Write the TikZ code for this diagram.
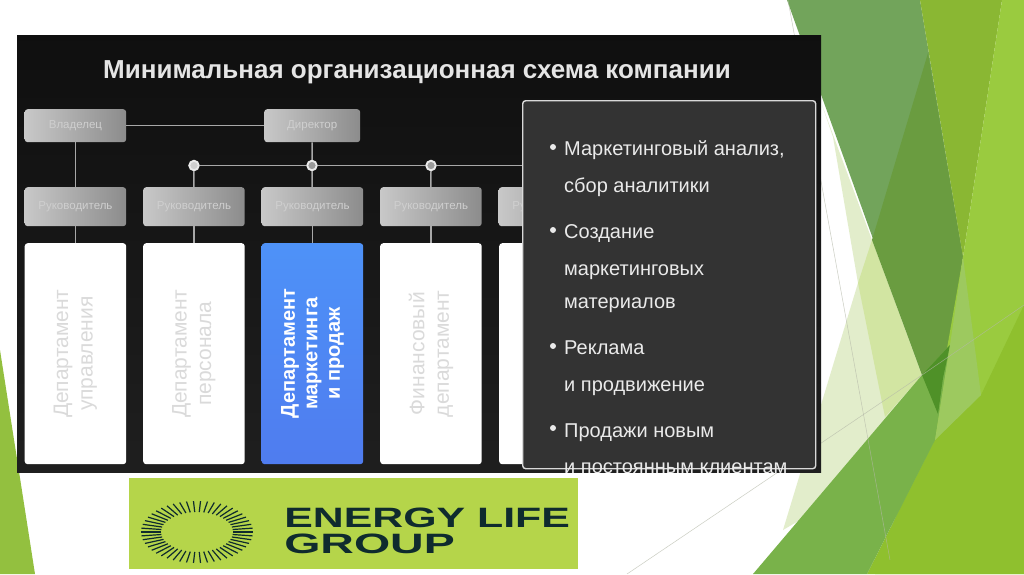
\documentclass[tikz,border=0pt]{standalone}
\usepackage{fontspec}
\setmainfont{Liberation Sans}
\begin{document}
\begin{tikzpicture}[x=1pt,y=-1pt,
  boss/.style={draw=none,rounded corners=3pt,left color=bossL,right color=bossR,text=bossT,
    font=\fontsize{11.5}{13}\selectfont,inner sep=0pt,anchor=north west},
  dept/.style={fill=white,rounded corners=3pt,inner sep=0pt,anchor=north west,minimum width=101.5pt,minimum height=221pt},
  depttext/.style={rotate=90,align=center,font=\fontsize{21}{24.5}\selectfont,text=deptT,inner sep=0pt},
  link/.style={draw=linkC,line width=1.5pt},
  dot/.style={circle,fill=linkD,draw=white!92!black,line width=1.9pt,minimum size=9.5pt,inner sep=0pt},
  thin line/.style={draw=thinC,line width=0.5pt},
  item/.style={anchor=base west,text=panelT,font=\fontsize{20}{23}\selectfont,inner sep=0pt},
  bul/.style={circle,fill=panelT,minimum size=6pt,inner sep=0pt},
  logotext/.style={anchor=west,inner sep=0pt,text=logoD,font=\bfseries\fontsize{28}{30}\selectfont}
]
\definecolor{bossL}{HTML}{C8C8C8}\definecolor{bossR}{HTML}{8C8C8C}\definecolor{bossT}{HTML}{CFCFCF}
\definecolor{deptT}{HTML}{DADADA}\definecolor{linkC}{HTML}{A8A8A8}\definecolor{linkD}{HTML}{9A9A9A}
\definecolor{thinC}{HTML}{B4B8A8}\definecolor{panelT}{HTML}{EAEAEA}
\definecolor{gA}{HTML}{72A45B}\definecolor{gB}{HTML}{6A9C40}\definecolor{gC}{HTML}{8AB733}
\definecolor{gD}{HTML}{9ACB3F}\definecolor{gE}{HTML}{8FC02E}\definecolor{gF}{HTML}{79B24A}
\definecolor{gG}{HTML}{E2EDCB}\definecolor{gH}{HTML}{D2E5A2}\definecolor{gI}{HTML}{4F9128}
\definecolor{gJ}{HTML}{9DC95F}\definecolor{gL}{HTML}{93C03F}
\definecolor{blueTop}{HTML}{4E92F8}\definecolor{blueBot}{HTML}{4F7CEF}
\definecolor{logoG}{HTML}{B5D54A}\definecolor{logoD}{HTML}{0F2B2E}
\useasboundingbox (0,0) rectangle (1024,574);
\fill[white] (0,0) rectangle (1024,574);
% background
\fill[gG] (822,105) -- (922,375) -- (885,470) -- (783,530) -- (858,283) -- (833,137) -- cycle;
\fill[gH] (872,240) -- (922,375) -- (885,417) -- (858,283) -- cycle;
\fill[gA] (787,0) -- (920,0) -- (963,257) -- (922,375) -- cycle;
\fill[gB] (928,53) -- (963,257) -- (950,345) -- (923,377) -- (872,240) -- cycle;
\fill[gC] (920,0) -- (1002,0) -- (963,257) -- cycle;
\fill[gD] (1002,0) -- (1024,0) -- (1024,574) -- (875,574) -- (938,400) -- (963,257) -- cycle;
\fill[gE] (1024,305) -- (1024,574) -- (867,574) -- (935,440) -- (981,395) -- cycle;
\fill[gF] (922,375) -- (950,345) -- (935,440) -- (867,574) -- (753,574) -- cycle;
\fill[gI] (922,375) -- (950,345) -- (943,378) -- (938,414) -- cycle;
\fill[gJ] (950,345) -- (963,257) -- (981,395) -- (935,440) -- cycle;
\fill[gL] (0,350) -- (35,574) -- (0,574) -- cycle;
\draw[thin line,opacity=.7] (788,0) -- (890,560);
\draw[thin line,opacity=.7] (627,574) -- (922,375) -- (1024,305);
% picture background
\fill[top color=black!94,bottom color=black!88] (17,35) rectangle (821,472);
\node[text=white!90!black,font=\bfseries\fontsize{26}{30}\selectfont,inner sep=0pt] (title) at (417,72) {Минимальная организационная схема компании};
% top boxes
\node[boss,minimum width=101.5pt,minimum height=33pt] (own) at (24.5,109) {Владелец};
\node[boss,minimum width=96pt,minimum height=33pt] (dir) at (264,109) {Директор};
% managers
\foreach \n/\x in {1/24.5,2/143,3/261.5,4/380,5/498.5}{
  \node[boss,minimum width=101.5pt,minimum height=39pt] (m\n) at (\x,187) {Руководитель};
}
% departments
\node[dept] (d1) at (24.5,243) {};
\node[dept] (d2) at (143,243) {};
\node[dept,fill=none,top color=blueTop,bottom color=blueBot] (d3) at (261.5,243) {};
\node[dept] (d4) at (380,243) {};
\node[dept] (d5) at (499,243) {};
\node[depttext] at (d1.center) {Департамент\\управления};
\node[depttext] at (d2.center) {Департамент\\персонала};
\node[depttext,text=white,font=\bfseries\fontsize{20}{22.5}\selectfont] at (d3.center) {Департамент\\маркетинга\\и продаж};
\node[depttext] at (d4.center) {Финансовый\\департамент};
% hub nodes
\coordinate (busEnd) at (530,165.5);
\node[dot,fill=bossT] (h2) at (194,165.5) {};
\node[dot] (h3) at (312,165.5) {};
\node[dot] (h4) at (431,165.5) {};
% connectors
\draw[link] (own) -- (dir);
\draw[link] (own) -- (m1);
\draw[link] (dir) -- (h3);
\draw[link] (h2) -- (h3);
\draw[link] (h3) -- (h4);
\draw[link] (h4) -- (busEnd);
\draw[link] (h2) -- (m2);
\draw[link] (h3) -- (m3);
\draw[link] (h4) -- (m4);
\foreach \n in {1,2,3,4}{\draw[link] (m\n) -- (d\n);}
% panel
\node[draw=white!85!black,line width=1.4pt,fill=black!80,rounded corners=3pt,anchor=north west,minimum width=293pt,minimum height=368pt,inner sep=0pt] (panel) at (522,100) {};
\begin{scope}
\clip (17,35) rectangle (821,472);
\node[item] (t1) at (564,155) {Маркетинговый анализ,};
\node[item] (t2) at (564,192) {сбор аналитики};
\node[item] (t3) at (564,238) {Создание};
\node[item] (t4) at (564,275) {маркетинговых};
\node[item] (t5) at (564,308) {материалов};
\node[item] (t6) at (564,354) {Реклама};
\node[item] (t7) at (564,391) {и продвижение};
\node[item] (t8) at (564,437) {Продажи новым};
\node[item] (t9) at (564,473) {и постоянным клиентам};
\end{scope}
\foreach \n/\y in {1/147,3/230,6/346,8/428}{\node[bul] (b\n) at (553,\y) {};}
% logo
\fill[logoG] (129,478) rectangle (578,569);
\foreach \a in {0,7.2,...,353}{
  \draw[logoD,line width=1.2pt] ({197+36*cos(\a)},{532+20*sin(\a)}) -- ({197+56*cos(\a)},{532+31*sin(\a)});
}
\node[logotext,xscale=1.53] (e1) at (284,518) {ENERGY LIFE};
\node[logotext,xscale=1.66] (e2) at (284,544) {GROUP};
\end{tikzpicture}
\end{document}
